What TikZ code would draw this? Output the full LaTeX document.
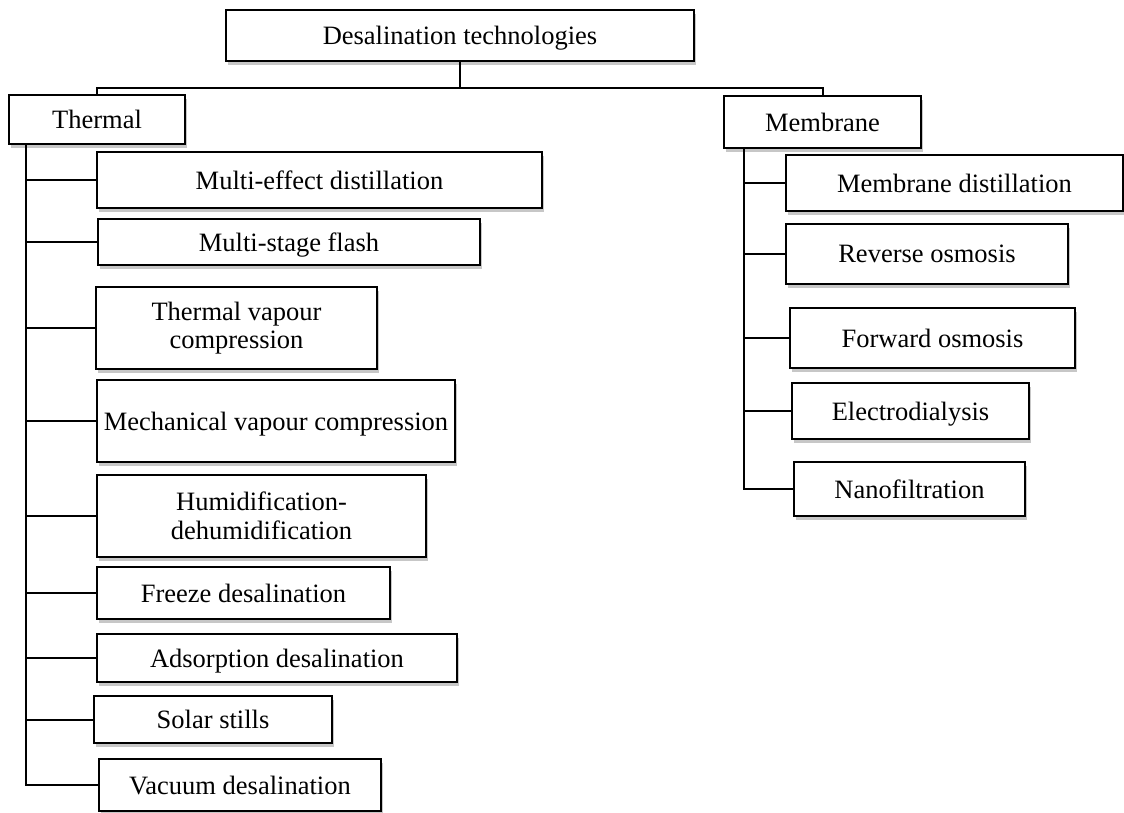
\documentclass[tikz,border=0pt]{standalone}
\usepackage{fontspec}
\setmainfont{Liberation Serif}
\usetikzlibrary{shadows}
\begin{document}
\begin{tikzpicture}[x=1pt,y=-1pt,
  boxnode/.style={draw=black, line width=2pt, fill=white, inner sep=0pt, align=center,
    font=\fontsize{26.5}{28.5}\selectfont,
    drop shadow={shadow xshift=2pt, shadow yshift=-3.5pt, opacity=0.22, fill=black}},
  onebox/.style={boxnode, text depth=0pt},
  link/.style={line width=2pt},
  trunk/.style={line width=2.8pt}]
\useasboundingbox (0,0) rectangle (1124,812);
\fill[white] (0,0) rectangle (1124,812);
% top
\node[onebox, minimum width=468pt, minimum height=51pt] (top) at (460,35.5) {Desalination technologies};
\node[onebox, minimum width=176pt, minimum height=49pt] (thermal) at (97,119.5) {Thermal};
\node[onebox, minimum width=197pt, minimum height=52pt] (membrane) at (822.5,122) {Membrane};
% thermal children
\node[onebox, minimum width=445pt, minimum height=56pt] (med) at (319.5,180) {Multi-effect distillation};
\node[onebox, minimum width=382pt, minimum height=46pt] (msf) at (289,242) {Multi-stage flash};
\node[boxnode, minimum width=281pt, minimum height=82pt] (tvc) at (236.5,328) {Thermal vapour\\compression};
\node[onebox, minimum width=358pt, minimum height=82pt] (mvc) at (276,421) {Mechanical vapour compression};
\node[boxnode, minimum width=329pt, minimum height=82pt] (hdh) at (261.5,516) {Humidification-\\dehumidification};
\node[onebox, minimum width=293pt, minimum height=52pt] (frz) at (243.5,593) {Freeze desalination};
\node[onebox, minimum width=360pt, minimum height=48pt] (ads) at (277,658) {Adsorption desalination};
\node[onebox, minimum width=238pt, minimum height=47pt] (sol) at (213,719.5) {Solar stills};
\node[onebox, minimum width=282pt, minimum height=52pt] (vac) at (240,785) {Vacuum desalination};
% membrane children
\node[onebox, minimum width=337pt, minimum height=56pt] (md) at (954.5,183) {Membrane distillation};
\node[onebox, minimum width=282pt, minimum height=60pt] (ro) at (927,254) {Reverse osmosis};
\node[onebox, minimum width=285pt, minimum height=60pt] (fo) at (932.5,338) {Forward osmosis};
\node[onebox, minimum width=237pt, minimum height=56pt] (ed) at (910.5,411) {Electrodialysis};
\node[onebox, minimum width=231pt, minimum height=54pt] (nf) at (909.5,489) {Nanofiltration};
% top connectors
\coordinate (hb) at (460,88);
\draw[link] (top.south) -- (hb);
\draw[link] (thermal.north) |- (hb) -| (membrane.north);
% trunks
\coordinate (tt) at (26,144);
\coordinate (mt) at (744,148);
\draw[trunk] (tt) -- (tt |- vac.west) -- (vac.west);
\draw[trunk] (mt) -- (mt |- nf.west) -- (nf.west);
% thermal branches
\foreach \n in {med,msf,tvc,mvc,hdh,frz,ads,sol}
  \draw[link] (tt |- \n.west) -- (\n.west);
% membrane branches
\foreach \n in {md,ro,fo,ed}
  \draw[link] (mt |- \n.west) -- (\n.west);
\end{tikzpicture}
\end{document}
